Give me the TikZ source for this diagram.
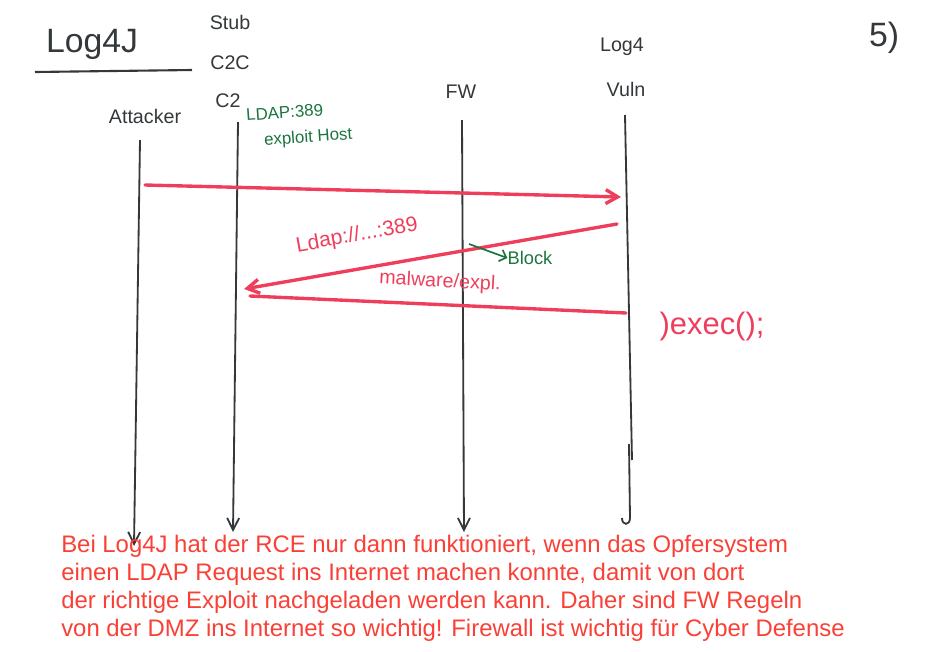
\documentclass[tikz,border=0pt]{standalone}
\usepackage{fontspec}
\setmainfont{Liberation Sans}
\usepackage{xcolor}
\usepackage{tikz}
\usetikzlibrary{arrows.meta,positioning}
\definecolor{ink}{RGB}{52,56,58}
\definecolor{marker}{RGB}{238,62,92}
\definecolor{pen}{RGB}{28,116,62}
\definecolor{note}{RGB}{250,64,54}
\newcommand{\handpt}[1]{\fontsize{#1}{#1}\selectfont}

\begin{document}
\begin{tikzpicture}[x=0.025cm, y=-0.025cm,
  hand/.style={text=ink, font=\handpt{14}, inner sep=1pt},
  title/.style={text=ink, font=\handpt{24}, inner sep=1pt},
  redhand/.style={text=marker, font=\handpt{14}, inner sep=1pt},
  greenhand/.style={text=pen, font=\handpt{12}, inner sep=0pt},
  life/.style={draw=ink, line width=1.3pt, -{Straight Barb[length=3mm,width=3mm]}},
  msg/.style={draw=marker, line width=2.4pt, line cap=round},
  msgarrow/.style={msg, -{Straight Barb[length=3mm,width=3.5mm]}},
  hint/.style={draw=pen, line width=1.2pt, -{Straight Barb[length=1.5mm]}},
  notetext/.style={text=note, font=\fontsize{17}{19.9}\selectfont, align=left, inner sep=0pt}
]
\useasboundingbox (0,0) rectangle (936,652);

\node[title] (log4j) at (92,44) {Log4J};
\coordinate (ul-a) at (35,72);
\coordinate (ul-b) at (192,70);
\draw[ink, line width=1.5pt] (ul-a) -- (ul-b);
\node[title] (page) at (884,38) {5)};

\node[hand] (stub) at (230,22) {Stub};
\node[hand] (c2c) at (230,63) {C2C};
\node[hand] (c2) at (228,101) {C2};
\node[hand] (attacker) at (145,116) {Attacker};
\node[hand] (fw) at (461,92) {FW};
\node[hand] (log4) at (622,47) {Log4};
\node[hand] (vuln) at (626,89) {Vuln};

\node[greenhand, rotate=4, anchor=west] (ldap) at (246,115) {LDAP:389};
\node[greenhand, rotate=4, anchor=west] (host) at (264,141) {exploit Host};

\coordinate (att-top) at (140,140);
\coordinate (att-end) at (134,546);
\coordinate (c2-top) at (238,122);
\coordinate (c2-end) at (233,532);
\coordinate (fw-top) at (462,120);
\coordinate (fw-end) at (464,532);
\coordinate (vul-top) at (625,115);
\coordinate (vul-mid) at (632,460);
\coordinate (vul-hook) at (629,444);
\coordinate (vul-end) at (630,518);

\draw[life] (att-top) -- (att-end);
\draw[life] (c2-top) -- (c2-end);
\draw[life] (fw-top) -- (fw-end);
\draw[ink, line width=1.3pt] (vul-top) -- (vul-mid);
\draw[ink, line width=1.3pt] (vul-hook) -- (vul-end) to[out=-90, in=-90, looseness=2.5] ++(-8,0);

\coordinate (m1-a) at (145,185);
\coordinate (m1-b) at (621,197);
\coordinate (m2-a) at (617,224);
\coordinate (m2-b) at (244,289);
\coordinate (m3-a) at (250,296);
\coordinate (m3-b) at (626,313);

\draw[msgarrow] (m1-a) -- (m1-b);
\draw[msgarrow] (m2-a) -- (m2-b);
\draw[msg] (m3-a) -- (m3-b);

\node[redhand, font=\handpt{15}, rotate=10] (ldapurl) at (357,236) {Ldap://...:389};
\node[redhand, rotate=-3] (malware) at (440,282) {malware/expl.};
\node[text=marker, font=\handpt{22}, inner sep=1pt] (exec) at (712,326) {)exec();};

\coordinate (fw-hit) at (469,244);
\node[greenhand, font=\handpt{13}] (block) at (530,258) {Block};
\draw[hint] (fw-hit) -- (block.west);

\node[notetext, anchor=north west] (note) at (61,535) {Bei Log4J hat der RCE nur dann funktioniert, wenn das Opfersystem\\
einen LDAP Request ins Internet machen konnte, damit von dort\\
der richtige Exploit nachgeladen werden kann. Daher sind FW Regeln\\
von der DMZ ins Internet so wichtig! Firewall ist wichtig für Cyber Defense};
\end{tikzpicture}
\end{document}
